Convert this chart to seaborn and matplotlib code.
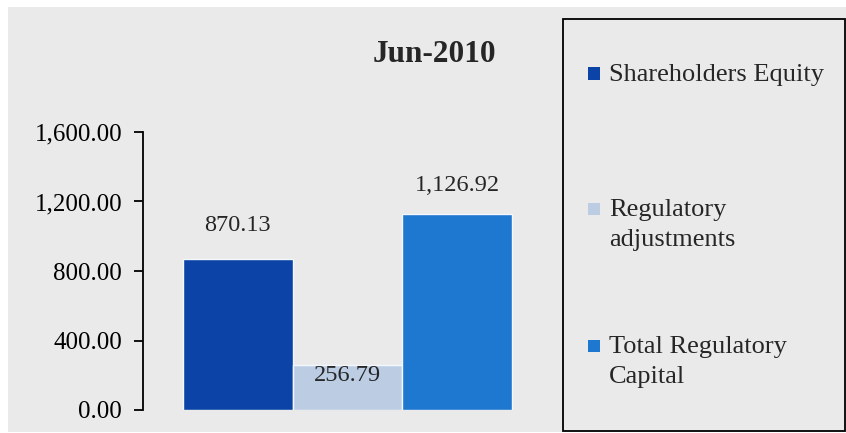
import pandas as pd
import matplotlib.pyplot as plt
import seaborn as sns
from matplotlib.patches import Rectangle
from matplotlib.ticker import FuncFormatter

# chart data
categories = ['Shareholders Equity', 'Regulatory adjustments', 'Total Regulatory Capital']
legend_labels = ['Shareholders Equity', 'Regulatory\nadjustments', 'Total Regulatory\nCapital']
values = [870.13, 256.79, 1126.92]
colors = ['#0B44A6', '#BCCDE3', '#1E78CF']
chart_title = 'Jun-2010'
y_ticks = [0, 400, 800, 1200, 1600]

# layout (pixels of the 846x433 canvas)
W, H = 846, 433
label_offsets = [24, -7, 21]          # points above bar top
legend_tops = [64, 199, 336]          # first text line top
legend_marker_y = [73.5, 209, 346]    # marker centres


def fx(px):
    return px / W


def fy(py):
    return 1 - py / H


sns.set_style('white')
plt.rcParams['font.family'] = ['Liberation Serif', 'DejaVu Serif']

fig = plt.figure(figsize=(W / 100, H / 100), dpi=100, facecolor='white')

# grey chart area and legend frame
fig.add_artist(Rectangle((fx(8), fy(432)), 1 - fx(8), fy(7) - fy(432),
                         facecolor='#EAEAEA', edgecolor='none', zorder=-10))
fig.add_artist(Rectangle((fx(563), fy(431)), fx(845) - fx(563), fy(19) - fy(431),
                         fill=False, edgecolor='black', linewidth=1.3))

ax = fig.add_axes([fx(143), fy(410), 409 / W, (410 - 132) / H])
ax.set_facecolor('none')

df = pd.DataFrame({'category': categories, 'value': values})
sns.barplot(data=df, x='category', y='value', hue='category', palette=colors,
            saturation=1, width=1.0, edgecolor='#F4F7FB', linewidth=1,
            legend=False, ax=ax)

ax.set_xlim(-0.865, 2.865)
ax.set_ylim(0, 1600)
ax.set_yticks(y_ticks)
ax.yaxis.set_major_formatter(FuncFormatter(lambda v, p: f'{v:,.2f}'))
ax.set_xticks([])
ax.set_xlabel('')
ax.set_ylabel('')
for s in ['top', 'right', 'bottom']:
    ax.spines[s].set_visible(False)
ax.spines['left'].set_linewidth(1.3)
ax.spines['left'].set_color('black')
ax.tick_params(axis='y', left=True, direction='out', length=6.5, width=1.3,
               pad=8.5, labelsize=18, colors='black')

# value labels
for i, (v, off) in enumerate(zip(values, label_offsets)):
    ax.annotate(f'{v:,.2f}', (i, v), xytext=(0, off), textcoords='offset points',
                ha='center', va='center', fontsize=17.5)

fig.text(fx(434), fy(55), chart_title, ha='center', va='center',
         fontsize=22.5, fontweight='bold')

# legend
for lab, col, top, my in zip(legend_labels, colors, legend_tops, legend_marker_y):
    fig.add_artist(Rectangle((fx(588), fy(my + 6)), 12 / W, 12 / H,
                             facecolor=col, edgecolor='none'))
    fig.text(fx(609), fy(top), lab, ha='left', va='top', fontsize=19,
             linespacing=1.45)

plt.savefig('out.png', dpi=100)
plt.close()
